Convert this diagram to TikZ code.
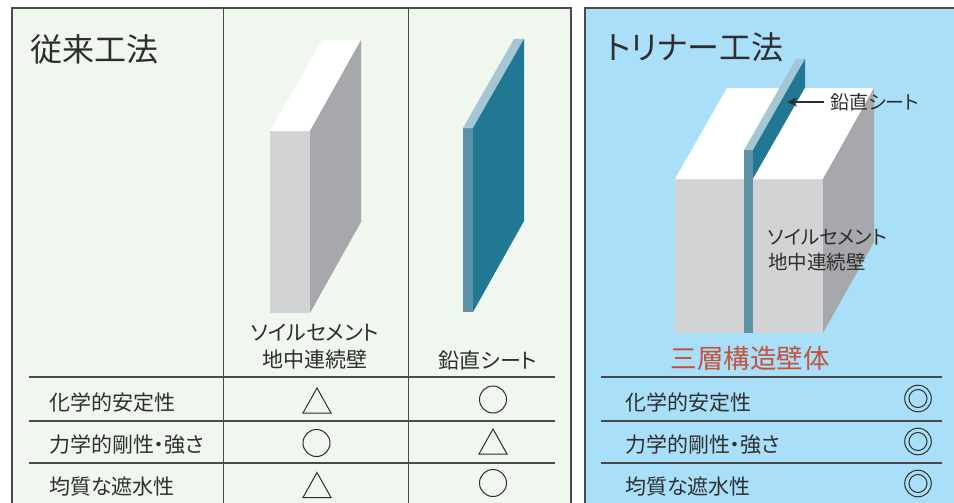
\documentclass[tikz,border=0pt]{standalone}
\usepackage{fontspec}
\setmainfont{Noto Sans CJK JP}[RawFeature=+palt]
\usetikzlibrary{arrows.meta}

\definecolor{panelgreen}{HTML}{EFF7EE}
\definecolor{panelblue}{HTML}{A9DFF8}
\definecolor{ink}{HTML}{2E2E2E}
\definecolor{frame}{HTML}{4A4A4A}
\definecolor{wallfront}{HTML}{D1D3D4}
\definecolor{wallside}{HTML}{A7A8AC}
\definecolor{sheetfront}{HTML}{5E91A8}
\definecolor{sheettop}{HTML}{A5C6D4}
\definecolor{sheetside}{HTML}{207893}
\definecolor{accent}{HTML}{C4533A}

% rating symbols: triangle, circle, double circle
\newcommand\triSym[2]{\draw[symb] (#1-14,#2+12.5) -- (#1,#2-12.5) -- (#1+14,#2+12.5) -- cycle;}
\newcommand\circSym[2]{\draw[symb] (#1,#2) circle[radius=13.5];}
\newcommand\dblSym[2]{\draw[symb] (#1,#2) circle[radius=13.3] (#1,#2) circle[radius=9];}

\begin{document}
\begin{tikzpicture}[x=1pt,y=-1pt,
  lbl/.style={inner sep=0pt,text=ink},
  title/.style={lbl,anchor=west,font=\fontsize{32}{36}\selectfont},
  rowtext/.style={lbl,anchor=west,font=\fontsize{21}{25}\selectfont},
  rule/.style={draw=frame,line width=1.1pt},
  symb/.style={draw=ink,line width=1pt},
  border/.style={draw=frame,line width=1.6pt}]
\useasboundingbox (0,0) rectangle (954,503);
\clip (0,0) rectangle (954,503);

% ---------- conventional method panel ----------
\fill[panelgreen] (12,8) rectangle (571,520);
\draw[border] (12,520) -- (12,8) -- (571,8) -- (571,520);
\draw[draw=frame,line width=1pt] (223,8) -- (223,520) (408,8) -- (408,520);

% soil-cement wall
\fill[wallfront] (270,131) rectangle (310,313);
\fill[white] (270,131) -- (310,131) -- (361,40) -- (322,40) -- cycle;
\fill[wallside] (310,131) -- (361,40) -- (361,222) -- (310,313) -- cycle;

% vertical sheet
\fill[sheetfront] (463,128) rectangle (473,312);
\fill[sheettop] (463,128) -- (473,128) -- (524,39) -- (514,39) -- cycle;
\fill[sheetside] (473,128) -- (524,39) -- (524,221) -- (473,312) -- cycle;

\node[title] (oldtitle) at (30,49) {従来工法};
\node[lbl,align=center,font=\fontsize{21}{27}\selectfont] (wallA) at (315,347) {ソイルセメント\\地中連続壁};
\node[lbl,font=\fontsize{21}{25}\selectfont] (sheetA) at (488,360) {鉛直シート};

% table
\draw[rule] (29,377) -- (555,377) (29,421) -- (555,421) (29,463) -- (555,463);
\node[rowtext] (rowA1) at (49,403) {化学的安定性};
\node[rowtext] (rowA2) at (49,445) {力学的剛性・強さ};
\node[rowtext] (rowA3) at (49,487) {均質な遮水性};
\triSym{317}{400.5}
\circSym{493}{399.5}
\circSym{316.5}{443}
\triSym{493}{441.5}
\triSym{317}{485}
\circSym{493}{483}

% ---------- Trinar method panel ----------
\fill[panelblue] (585,8) rectangle (970,520);
\draw[border] (585,520) -- (585,8) -- (970,8);

% left wall
\fill[wallfront] (675,179) rectangle (744,333);
\fill[white] (675,179) -- (753,179) -- (805,88) -- (727,88) -- cycle;
% sheet between the walls
\fill[sheetfront] (744,150) rectangle (753,333);
\fill[sheettop] (744,150) -- (753,150) -- (805,59) -- (796,59) -- cycle;
\fill[sheetside] (753,150) -- (805,59) -- (805,88) -- (753,179) -- cycle;
% right wall
\fill[wallfront] (753,179) rectangle (823,333);
\fill[white] (753,179) -- (823,179) -- (874,88) -- (805,88) -- cycle;
\fill[wallside] (823,179) -- (874,88) -- (874,242) -- (823,333) -- cycle;

\node[title] (newtitle) at (606,47) {トリナー工法};
\node[lbl,anchor=west,font=\fontsize{19}{24}\selectfont] (sheetB) at (830,102) {鉛直シート};
\coordinate (sheettip) at (787,102);
\draw[draw=ink,line width=1.1pt,shorten <=6pt,-{Stealth[length=10pt,width=9pt]}] (sheetB.west) -- (sheettip);
\node[lbl,anchor=west,align=left,font=\fontsize{19.5}{25}\selectfont] (wallB) at (768,250) {ソイルセメント\\地中連続壁};
\node[lbl,text=accent,font=\fontsize{26.5}{30}\selectfont] (triple) at (750,358) {三層構造壁体};

\draw[rule] (601,377) -- (942,377) (601,421) -- (942,421) (601,463) -- (942,463);
\node[rowtext] (rowB1) at (625,403) {化学的安定性};
\node[rowtext] (rowB2) at (625,445) {力学的剛性・強さ};
\node[rowtext] (rowB3) at (625,487) {均質な遮水性};
\dblSym{918}{398.5}
\dblSym{918}{441.5}
\dblSym{918}{483.5}
\end{tikzpicture}
\end{document}
